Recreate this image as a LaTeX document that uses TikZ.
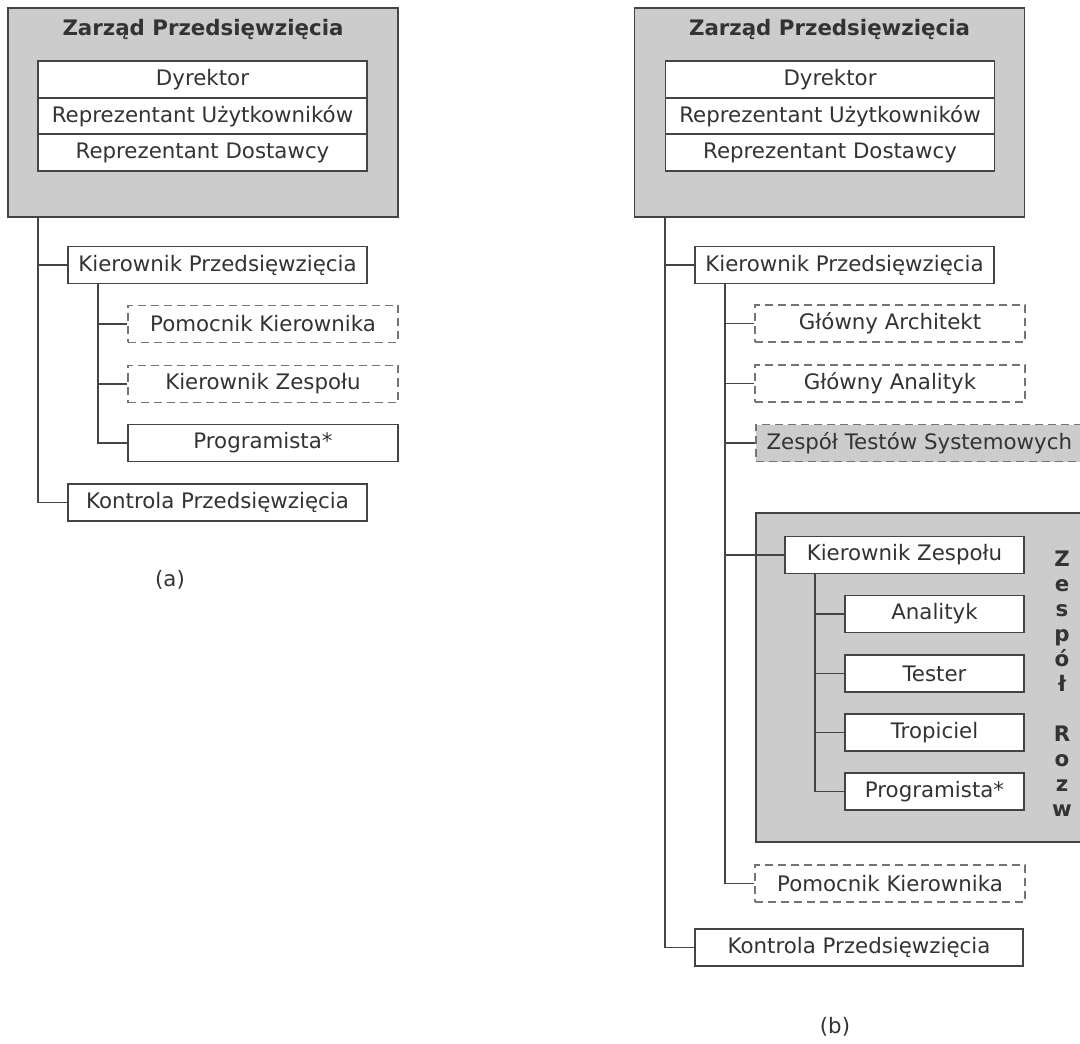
\documentclass[tikz,border=0pt]{standalone}
\usepackage{fontspec}
\setmainfont{DejaVu Sans}
\usetikzlibrary{positioning}

\definecolor{boardgray}{HTML}{CCCCCC}
\definecolor{edge}{HTML}{444444}
\definecolor{ink}{HTML}{333333}

\begin{document}
\begin{tikzpicture}[x=0.75pt, y=-0.75pt,
  font=\fontsize{16}{18}\selectfont, text=ink,
  board/.style={draw=edge, fill=boardgray, line width=1.4pt, minimum width=292.5pt, minimum height=156.75pt, inner sep=0pt},
  head/.style={font=\fontsize{16}{18}\selectfont\bfseries},
  row/.style={draw=edge, fill=white, line width=1.4pt, minimum width=246.75pt, minimum height=27.4pt, inner sep=0pt, outer sep=0pt},
  role/.style={draw=edge, fill=white, line width=1.4pt, minimum height=27.75pt, inner sep=0pt},
  opt/.style={role, draw=edge!75, dash pattern=on 6pt off 3.75pt},
  link/.style={draw=edge, line width=1.4pt}
]
\useasboundingbox (0,0) rectangle (1080,1044);
\clip (0,0) rectangle (1080,1044);

% (a) Zarzad i podlegli
\node[board] (zarzadA) at (203,112.5) {};
\node[head] (titleA) at (203,29) {Zarząd Przedsięwzięcia};
\node[row] (dirA) at (202.5,79.5) {Dyrektor};
\node[row] (ruA)  at (202.5,116)  {Reprezentant Użytkowników};
\node[row] (rdA)  at (202.5,152.5) {Reprezentant Dostawcy};

\node[role, minimum width=224pt]  (kpA)   at (217.5,265)   {Kierownik Przedsięwzięcia};
\node[opt,  minimum width=202.5pt] (pkA)  at (263,324)     {Pomocnik Kierownika};
\node[opt,  minimum width=202.5pt] (kzA)  at (263,384)     {Kierownik Zespołu};
\node[role, minimum width=202.5pt] (prA)  at (263,443)     {Programista*};
\node[role, minimum width=224pt]  (kontA) at (217.5,502.5) {Kontrola Przedsięwzięcia};
\node (capA) at (170,580) {(a)};

% (b) Zarzad i podlegli
\node[board] (zarzadB) at (829.5,112.5) {};
\node[head] (titleB) at (829.5,29) {Zarząd Przedsięwzięcia};
\node[row] (dirB) at (830,79.5)  {Dyrektor};
\node[row] (ruB)  at (830,116)   {Reprezentant Użytkowników};
\node[row] (rdB)  at (830,152.5) {Reprezentant Dostawcy};

\node[role, minimum width=224pt]   (kpB)  at (844.5,265) {Kierownik Przedsięwzięcia};
\node[opt,  minimum width=202.5pt] (gaB)  at (890,323.5) {Główny Architekt};
\node[opt,  minimum width=202.5pt] (ganB) at (890,383.5) {Główny Analityk};
\node[opt,  fill=boardgray, minimum width=245pt, anchor=west] (ztsB) at (755,443) {Zespół Testów Systemowych};

% Zespol rozwojowy
\node[draw=edge, fill=boardgray, line width=1.4pt, anchor=north west, minimum width=262.5pt, minimum height=246.75pt, inner sep=0pt] (teamB) at (755,512) {};
\node[font=\fontsize{16}{18.75}\selectfont\bfseries, align=center] (teamlabB) at (1062,684)
  {Z\\e\\s\\p\\ó\\ł\\[18.75pt]R\\o\\z\\w};
\node[role, minimum width=179pt] (kzB) at (904.5,555)   {Kierownik Zespołu};
\node[role, minimum width=134pt] (anB) at (934.5,614)   {Analityk};
\node[role, minimum width=134pt] (teB) at (934.5,673.5) {Tester};
\node[role, minimum width=134pt] (trB) at (934.5,732.5) {Tropiciel};
\node[role, minimum width=134pt] (prB) at (934.5,791.5) {Programista*};

\node[opt,  minimum width=202.5pt] (pkB)   at (890,883.5) {Pomocnik Kierownika};
\node[role, minimum width=246pt]   (kontB) at (859,947.5) {Kontrola Przedsięwzięcia};
\node (capB) at (835,1027) {(b)};

% Linie
\coordinate (trunkA)  at (38,217);
\coordinate (trunkKA) at (98,283);
\draw[link] (trunkA) |- (kpA.west);
\draw[link] (trunkA) |- (kontA.west);
\draw[link] (trunkKA) |- (pkA.west);
\draw[link] (trunkKA) |- (kzA.west);
\draw[link] (trunkKA) |- (prA.west);

\coordinate (trunkB)  at (665,217);
\coordinate (trunkKB) at (725,283);
\coordinate (trunkZB) at (815,573);
\draw[link] (trunkB) |- (kpB.west);
\draw[link] (trunkB) |- (kontB.west);
\draw[link] (trunkKB) |- (gaB.west);
\draw[link] (trunkKB) |- (ganB.west);
\draw[link] (trunkKB) |- (ztsB.west);
\draw[link] (trunkKB) |- (kzB.west);
\draw[link] (trunkKB) |- (pkB.west);
\draw[link] (trunkZB) |- (anB.west);
\draw[link] (trunkZB) |- (teB.west);
\draw[link] (trunkZB) |- (trB.west);
\draw[link] (trunkZB) |- (prB.west);
\end{tikzpicture}
\end{document}
